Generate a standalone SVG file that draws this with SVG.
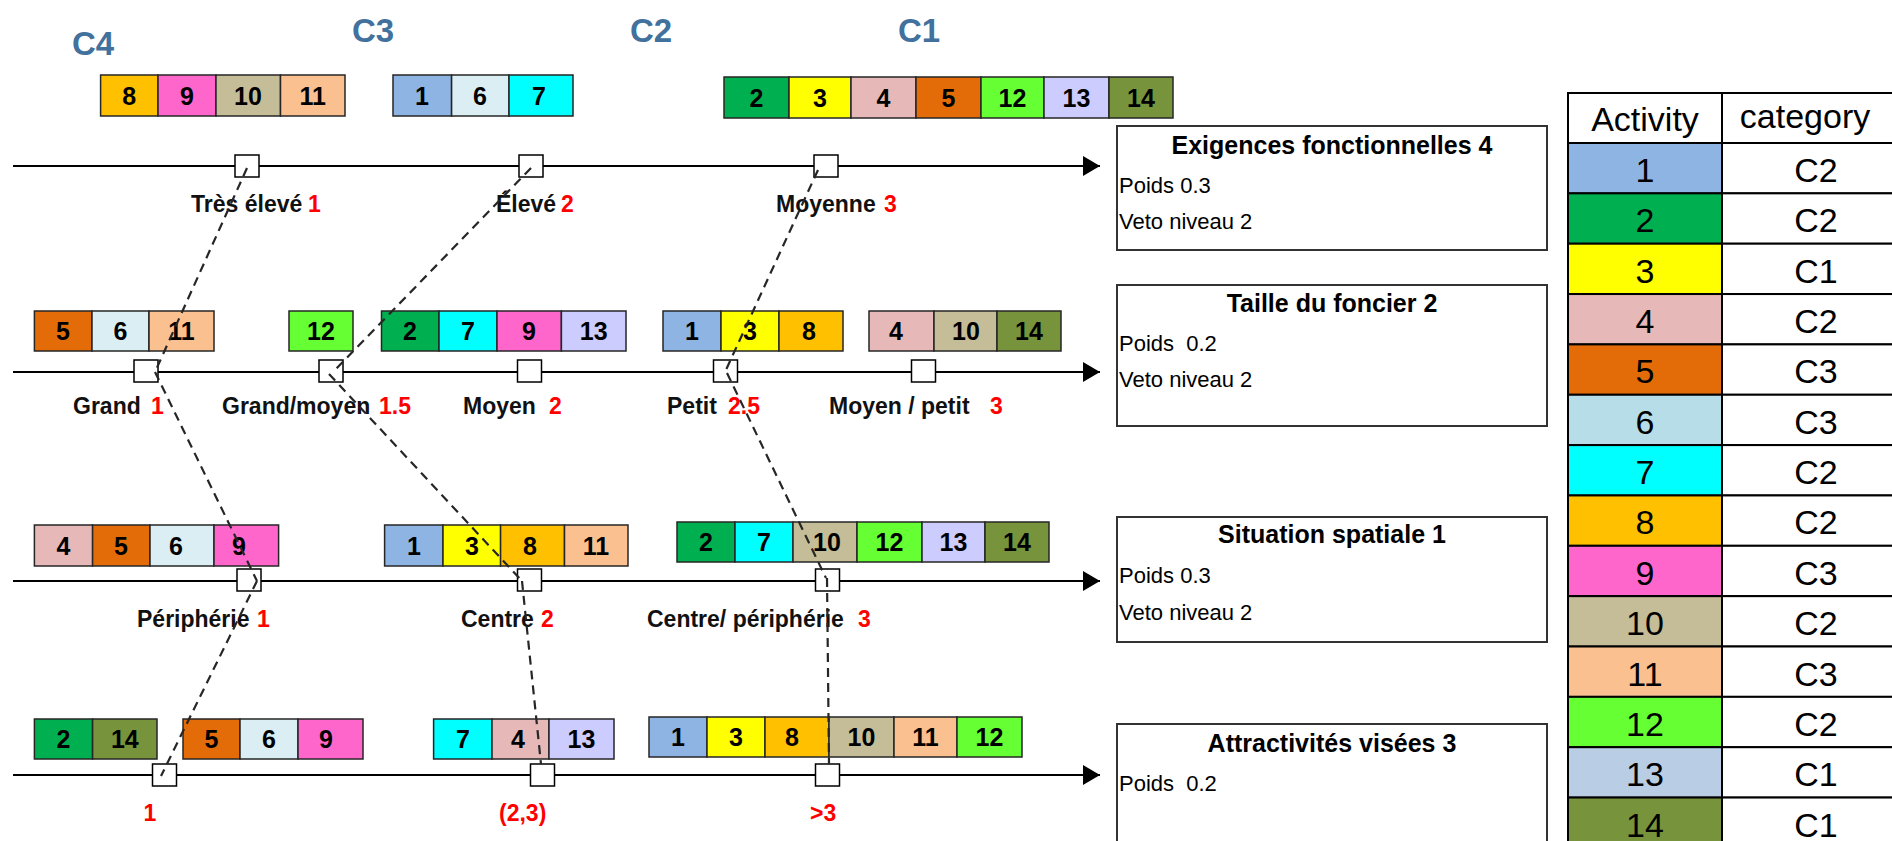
<svg xmlns="http://www.w3.org/2000/svg" width="1892" height="841" viewBox="0 0 1892 841">
<style>
.bg{fill:#fff}
.cell{stroke:#262626;stroke-width:1.5}
.num{font:bold 25px "Liberation Sans",Arial,sans-serif;text-anchor:middle;fill:#000}
.axis{stroke:#000;stroke-width:2}
.tick{fill:#fff;stroke:#000;stroke-width:1.5}
.lbl{font:bold 23px "Liberation Sans",Arial,sans-serif;fill:#111}
.red{fill:#FF0000}
.crit{fill:#fff;stroke:#333;stroke-width:2}
.title{font:bold 25px "Liberation Sans",Arial,sans-serif;text-anchor:middle;fill:#000}
.body{font:22px "Liberation Sans",Arial,sans-serif;fill:#000}
.cat{font:bold 33px "Liberation Sans",Arial,sans-serif;fill:#41719C}
.tbl{font:34px "Liberation Sans",Arial,sans-serif;text-anchor:middle;fill:#000}
.tcell{stroke:#000;stroke-width:2}
.conn{stroke:#262626;stroke-width:2.2;stroke-dasharray:9 6;fill:none}
.c1{fill:#8EB4E3}.c2{fill:#00B050}.c3{fill:#FFFF00}.c4{fill:#E6B9B8}.c5{fill:#E36C09}
.c6{fill:#DAEEF3}.c7{fill:#00FFFF}.c8{fill:#FFC000}.c9{fill:#FF66CC}.c10{fill:#C4BD97}
.c11{fill:#FAC090}.c12{fill:#66FF33}.c13{fill:#CCCCFF}.c14{fill:#77933C}
.t6{fill:#B7DEE8}.t13{fill:#B9CDE5}.w{fill:#fff}
</style>
<defs>
<marker id="arr" markerWidth="17" markerHeight="20" refX="17" refY="10" orient="auto" markerUnits="userSpaceOnUse">
<path d="M0,0 L17,10 L0,20 Z" fill="#000"/>
</marker>
</defs>
<rect class="bg" x="0" y="0" width="1892" height="841"/>

<g id="category-labels">
<text class="cat" x="72" y="55">C4</text>
<text class="cat" x="352" y="42">C3</text>
<text class="cat" x="630" y="42">C2</text>
<text class="cat" x="898" y="42">C1</text>
</g>

<!-- Axes -->
<g id="axes">
<line class="axis" x1="13" y1="166" x2="1100" y2="166" marker-end="url(#arr)"/>
<line class="axis" x1="13" y1="372" x2="1100" y2="372" marker-end="url(#arr)"/>
<line class="axis" x1="13" y1="581" x2="1100" y2="581" marker-end="url(#arr)"/>
<line class="axis" x1="13" y1="775" x2="1100" y2="775" marker-end="url(#arr)"/>
</g>

<!-- Row 1 boxes -->
<g id="r1-c4">
<rect class="cell c8" x="100.6" y="75" width="57.4" height="41"/><text class="num" x="129.3" y="104.5">8</text>
<rect class="cell c9" x="158" y="75" width="58" height="41"/><text class="num" x="187" y="104.5">9</text>
<rect class="cell c10" x="216" y="75" width="64.5" height="41"/><text class="num" x="248" y="104.5">10</text>
<rect class="cell c11" x="280.5" y="75" width="64.5" height="41"/><text class="num" x="312.7" y="104.5">11</text>
</g>
<g id="r1-c3">
<rect class="cell c1" x="393" y="75" width="58.6" height="41"/><text class="num" x="422" y="104.5">1</text>
<rect class="cell c6" x="451.6" y="75" width="57.4" height="41"/><text class="num" x="480" y="104.5">6</text>
<rect class="cell c7" x="509" y="75" width="64" height="41"/><text class="num" x="539" y="104.5">7</text>
</g>
<g id="r1-c1">
<rect class="cell c2" x="724" y="77" width="65" height="41"/><text class="num" x="756.5" y="106.5">2</text>
<rect class="cell c3" x="789" y="77" width="62" height="41"/><text class="num" x="820" y="106.5">3</text>
<rect class="cell c4" x="851" y="77" width="65" height="41"/><text class="num" x="883.5" y="106.5">4</text>
<rect class="cell c5" x="916" y="77" width="65" height="41"/><text class="num" x="948.5" y="106.5">5</text>
<rect class="cell c12" x="981" y="77" width="63" height="41"/><text class="num" x="1012.5" y="106.5">12</text>
<rect class="cell c13" x="1044" y="77" width="65" height="41"/><text class="num" x="1076.5" y="106.5">13</text>
<rect class="cell c14" x="1109" y="77" width="64" height="41"/><text class="num" x="1141" y="106.5">14</text>
</g>

<!-- Row 2 boxes -->
<g id="r2-a">
<rect class="cell c5" x="34.4" y="311" width="57.6" height="40"/><text class="num" x="63" y="340">5</text>
<rect class="cell c6" x="92" y="311" width="57" height="40"/><text class="num" x="120.5" y="340">6</text>
<rect class="cell c11" x="149" y="311" width="65" height="40"/><text class="num" x="181.5" y="340">11</text>
</g>
<g id="r2-b">
<rect class="cell c12" x="289" y="311" width="64" height="40"/><text class="num" x="321" y="340">12</text>
</g>
<g id="r2-c">
<rect class="cell c2" x="381.5" y="311" width="57.5" height="40"/><text class="num" x="410" y="340">2</text>
<rect class="cell c7" x="439" y="311" width="58" height="40"/><text class="num" x="468" y="340">7</text>
<rect class="cell c9" x="497" y="311" width="64.4" height="40"/><text class="num" x="529" y="340">9</text>
<rect class="cell c13" x="561.4" y="311" width="64.6" height="40"/><text class="num" x="593.7" y="340">13</text>
</g>
<g id="r2-d">
<rect class="cell c1" x="663" y="311" width="58" height="40"/><text class="num" x="692" y="340">1</text>
<rect class="cell c3" x="721" y="311" width="58" height="40"/><text class="num" x="750" y="340">3</text>
<rect class="cell c8" x="779" y="311" width="64" height="40"/><text class="num" x="809" y="340">8</text>
</g>
<g id="r2-e">
<rect class="cell c4" x="869" y="311" width="65" height="40"/><text class="num" x="896" y="340">4</text>
<rect class="cell c10" x="934" y="311" width="63" height="40"/><text class="num" x="966" y="340">10</text>
<rect class="cell c14" x="997" y="311" width="64" height="40"/><text class="num" x="1029" y="340">14</text>
</g>

<!-- Row 3 boxes -->
<g id="r3-a">
<rect class="cell c4" x="34.4" y="525" width="58.2" height="41"/><text class="num" x="63.5" y="554.5">4</text>
<rect class="cell c5" x="92.6" y="525" width="57.4" height="41"/><text class="num" x="121" y="554.5">5</text>
<rect class="cell c6" x="150" y="525" width="64" height="41"/><text class="num" x="176" y="554.5">6</text>
<rect class="cell c9" x="214" y="525" width="64.6" height="41"/><text class="num" x="239" y="554.5">9</text>
</g>
<g id="r3-b">
<rect class="cell c1" x="384.6" y="525" width="58.4" height="41"/><text class="num" x="414" y="554.5">1</text>
<rect class="cell c3" x="443" y="525" width="57.6" height="41"/><text class="num" x="472" y="554.5">3</text>
<rect class="cell c8" x="500.6" y="525" width="63.9" height="41"/><text class="num" x="530" y="554.5">8</text>
<rect class="cell c11" x="564.5" y="525" width="63.5" height="41"/><text class="num" x="596" y="554.5">11</text>
</g>
<g id="r3-c">
<rect class="cell c2" x="677" y="522" width="58" height="40"/><text class="num" x="706" y="551">2</text>
<rect class="cell c7" x="735" y="522" width="58" height="40"/><text class="num" x="764" y="551">7</text>
<rect class="cell c10" x="793" y="522" width="64" height="40"/><text class="num" x="827" y="551">10</text>
<rect class="cell c12" x="857" y="522" width="65" height="40"/><text class="num" x="889.5" y="551">12</text>
<rect class="cell c13" x="922" y="522" width="63" height="40"/><text class="num" x="953.5" y="551">13</text>
<rect class="cell c14" x="985" y="522" width="64" height="40"/><text class="num" x="1017" y="551">14</text>
</g>

<!-- Row 4 boxes -->
<g id="r4-a">
<rect class="cell c2" x="34.4" y="719" width="58.2" height="40"/><text class="num" x="63.5" y="748">2</text>
<rect class="cell c14" x="92.6" y="719" width="64.4" height="40"/><text class="num" x="124.8" y="748">14</text>
</g>
<g id="r4-b">
<rect class="cell c5" x="183" y="719" width="57" height="40"/><text class="num" x="211.5" y="748">5</text>
<rect class="cell c6" x="240" y="719" width="58" height="40"/><text class="num" x="269" y="748">6</text>
<rect class="cell c9" x="298" y="719" width="65" height="40"/><text class="num" x="326" y="748">9</text>
</g>
<g id="r4-c">
<rect class="cell c7" x="433.6" y="719" width="58.4" height="40"/><text class="num" x="463" y="748">7</text>
<rect class="cell c4" x="492" y="719" width="57" height="40"/><text class="num" x="518" y="748">4</text>
<rect class="cell c13" x="549" y="719" width="65" height="40"/><text class="num" x="581.5" y="748">13</text>
</g>
<g id="r4-d">
<rect class="cell c1" x="649" y="717" width="58" height="40"/><text class="num" x="678" y="746">1</text>
<rect class="cell c3" x="707" y="717" width="58" height="40"/><text class="num" x="736" y="746">3</text>
<rect class="cell c8" x="765" y="717" width="64" height="40"/><text class="num" x="792" y="746">8</text>
<rect class="cell c10" x="829" y="717" width="65" height="40"/><text class="num" x="861.5" y="746">10</text>
<rect class="cell c11" x="894" y="717" width="63" height="40"/><text class="num" x="925.5" y="746">11</text>
<rect class="cell c12" x="957" y="717" width="65" height="40"/><text class="num" x="989.5" y="746">12</text>
</g>

<!-- Ticks with labels -->
<g id="t1-1"><rect class="tick" x="235" y="155" width="24" height="22"/><text class="lbl" y="212"><tspan x="191">Très élevé</tspan><tspan class="red" x="308">1</tspan></text></g>
<g id="t1-2"><rect class="tick" x="519" y="155" width="24" height="22"/><text class="lbl" y="212"><tspan x="496">Élevé</tspan><tspan class="red" x="561">2</tspan></text></g>
<g id="t1-3"><rect class="tick" x="814" y="155" width="24" height="22"/><text class="lbl" y="212"><tspan x="776">Moyenne</tspan><tspan class="red" x="884">3</tspan></text></g>

<g id="t2-1"><rect class="tick" x="134" y="360" width="24" height="22"/><text class="lbl" y="414"><tspan x="73">Grand</tspan><tspan class="red" x="151">1</tspan></text></g>
<g id="t2-2"><rect class="tick" x="319" y="360" width="24" height="22"/><text class="lbl" y="414"><tspan x="222">Grand/moyen</tspan><tspan class="red" x="379">1.5</tspan></text></g>
<g id="t2-3"><rect class="tick" x="517.5" y="360" width="24" height="22"/><text class="lbl" y="414"><tspan x="463">Moyen</tspan><tspan class="red" x="549">2</tspan></text></g>
<g id="t2-4"><rect class="tick" x="713.5" y="360" width="24" height="22"/><text class="lbl" y="414"><tspan x="667">Petit</tspan><tspan class="red" x="728">2.5</tspan></text></g>
<g id="t2-5"><rect class="tick" x="911.5" y="360" width="24" height="22"/><text class="lbl" y="414"><tspan x="829">Moyen / petit</tspan><tspan class="red" x="990">3</tspan></text></g>

<g id="t3-1"><rect class="tick" x="237" y="569" width="24" height="22"/><text class="lbl" y="627"><tspan x="137">Périphérie</tspan><tspan class="red" x="257">1</tspan></text></g>
<g id="t3-2"><rect class="tick" x="517.5" y="569" width="24" height="22"/><text class="lbl" y="627"><tspan x="461">Centre</tspan><tspan class="red" x="541">2</tspan></text></g>
<g id="t3-3"><rect class="tick" x="815.5" y="569" width="24" height="22"/><text class="lbl" y="627"><tspan x="647">Centre/ périphérie</tspan><tspan class="red" x="858">3</tspan></text></g>

<g id="t4-1"><rect class="tick" x="152.5" y="764" width="24" height="22"/><text class="lbl red" x="143.5" y="821">1</text></g>
<g id="t4-2"><rect class="tick" x="530.5" y="764" width="24" height="22"/><text class="lbl red" x="499" y="821">(2,3)</text></g>
<g id="t4-3"><rect class="tick" x="815.5" y="764" width="24" height="22"/><text class="lbl red" x="810" y="821">&gt;3</text></g>

<!-- Criterion boxes -->
<g id="crit-1">
<rect class="crit" x="1117" y="126" width="430" height="124"/>
<text class="title" x="1332" y="154">Exigences fonctionnelles 4</text>
<text class="body" x="1119" y="193">Poids 0.3</text>
<text class="body" x="1119" y="229">Veto niveau 2</text>
</g>
<g id="crit-2">
<rect class="crit" x="1117" y="285" width="430" height="141"/>
<text class="title" x="1332" y="312">Taille du foncier 2</text>
<text class="body" x="1119" y="351" xml:space="preserve">Poids  0.2</text>
<text class="body" x="1119" y="387">Veto niveau 2</text>
</g>
<g id="crit-3">
<rect class="crit" x="1117" y="517" width="430" height="125"/>
<text class="title" x="1332" y="543">Situation spatiale 1</text>
<text class="body" x="1119" y="583">Poids 0.3</text>
<text class="body" x="1119" y="620">Veto niveau 2</text>
</g>
<g id="crit-4">
<rect class="crit" x="1117" y="724" width="430" height="140"/>
<text class="title" x="1332" y="752">Attractivités visées 3</text>
<text class="body" x="1119" y="791" xml:space="preserve">Poids  0.2</text>
</g>

<!-- Table -->
<g id="table">
<rect class="tcell w" x="1568" y="93" width="154" height="50"/>
<rect class="tcell w" x="1722" y="93" width="180" height="50"/>
<text class="tbl" x="1645" y="131">Activity</text>
<text class="tbl" x="1805" y="128">category</text>

<rect class="tcell c1" x="1568" y="143" width="154" height="50.35"/><rect class="tcell w" x="1722" y="143" width="180" height="50.35"/>
<text class="tbl" x="1645" y="182">1</text><text class="tbl" x="1816" y="182">C2</text>
<rect class="tcell c2" x="1568" y="193.35" width="154" height="50.35"/><rect class="tcell w" x="1722" y="193.35" width="180" height="50.35"/>
<text class="tbl" x="1645" y="232.35">2</text><text class="tbl" x="1816" y="232.35">C2</text>
<rect class="tcell c3" x="1568" y="243.7" width="154" height="50.35"/><rect class="tcell w" x="1722" y="243.7" width="180" height="50.35"/>
<text class="tbl" x="1645" y="282.7">3</text><text class="tbl" x="1816" y="282.7">C1</text>
<rect class="tcell c4" x="1568" y="294.05" width="154" height="50.35"/><rect class="tcell w" x="1722" y="294.05" width="180" height="50.35"/>
<text class="tbl" x="1645" y="333.05">4</text><text class="tbl" x="1816" y="333.05">C2</text>
<rect class="tcell c5" x="1568" y="344.4" width="154" height="50.35"/><rect class="tcell w" x="1722" y="344.4" width="180" height="50.35"/>
<text class="tbl" x="1645" y="383.4">5</text><text class="tbl" x="1816" y="383.4">C3</text>
<rect class="tcell t6" x="1568" y="394.75" width="154" height="50.35"/><rect class="tcell w" x="1722" y="394.75" width="180" height="50.35"/>
<text class="tbl" x="1645" y="433.75">6</text><text class="tbl" x="1816" y="433.75">C3</text>
<rect class="tcell c7" x="1568" y="445.1" width="154" height="50.35"/><rect class="tcell w" x="1722" y="445.1" width="180" height="50.35"/>
<text class="tbl" x="1645" y="484.1">7</text><text class="tbl" x="1816" y="484.1">C2</text>
<rect class="tcell c8" x="1568" y="495.45" width="154" height="50.35"/><rect class="tcell w" x="1722" y="495.45" width="180" height="50.35"/>
<text class="tbl" x="1645" y="534.45">8</text><text class="tbl" x="1816" y="534.45">C2</text>
<rect class="tcell c9" x="1568" y="545.8" width="154" height="50.35"/><rect class="tcell w" x="1722" y="545.8" width="180" height="50.35"/>
<text class="tbl" x="1645" y="584.8">9</text><text class="tbl" x="1816" y="584.8">C3</text>
<rect class="tcell c10" x="1568" y="596.15" width="154" height="50.35"/><rect class="tcell w" x="1722" y="596.15" width="180" height="50.35"/>
<text class="tbl" x="1645" y="635.15">10</text><text class="tbl" x="1816" y="635.15">C2</text>
<rect class="tcell c11" x="1568" y="646.5" width="154" height="50.35"/><rect class="tcell w" x="1722" y="646.5" width="180" height="50.35"/>
<text class="tbl" x="1645" y="685.5">11</text><text class="tbl" x="1816" y="685.5">C3</text>
<rect class="tcell c12" x="1568" y="696.85" width="154" height="50.35"/><rect class="tcell w" x="1722" y="696.85" width="180" height="50.35"/>
<text class="tbl" x="1645" y="735.85">12</text><text class="tbl" x="1816" y="735.85">C2</text>
<rect class="tcell t13" x="1568" y="747.2" width="154" height="50.35"/><rect class="tcell w" x="1722" y="747.2" width="180" height="50.35"/>
<text class="tbl" x="1645" y="786.2">13</text><text class="tbl" x="1816" y="786.2">C1</text>
<rect class="tcell c14" x="1568" y="797.55" width="154" height="50.35"/><rect class="tcell w" x="1722" y="797.55" width="180" height="50.35"/>
<text class="tbl" x="1645" y="836.55">14</text><text class="tbl" x="1816" y="836.55">C1</text>
</g>

<!-- Connectors -->
<g id="connectors">
<line class="conn" x1="247" y1="168" x2="155" y2="372"/>
<line class="conn" x1="155" y1="372" x2="257" y2="581"/>
<line class="conn" x1="257" y1="581" x2="161" y2="776"/>
<line class="conn" x1="531" y1="168" x2="333" y2="372"/>
<line class="conn" x1="329" y1="374" x2="522" y2="581"/>
<line class="conn" x1="522" y1="581" x2="541" y2="764"/>
<line class="conn" x1="818" y1="170" x2="725" y2="372"/>
<line class="conn" x1="727" y1="373" x2="826" y2="578"/>
<line class="conn" x1="827" y1="578" x2="829" y2="764"/>
</g>
</svg>
